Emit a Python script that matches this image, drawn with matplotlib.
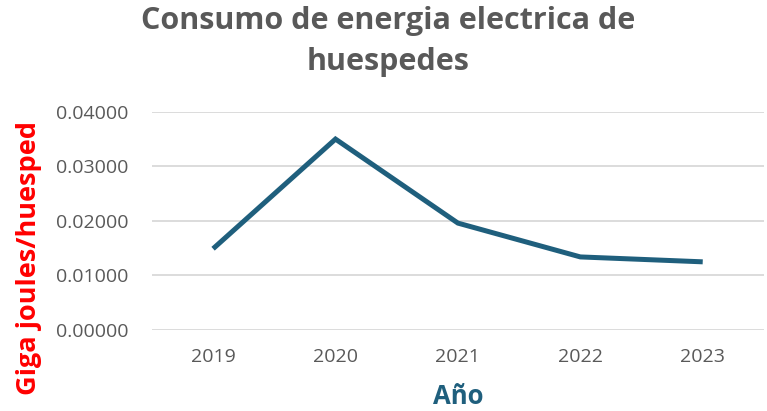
import matplotlib
matplotlib.use('Agg')
import matplotlib.pyplot as plt

YEARS = ['2019', '2020', '2021', '2022', '2023']
ENERGY = [0.0149, 0.0350, 0.0196, 0.0134, 0.0125]

TITLE = 'Consumo de energia electrica de\nhuespedes'
XLABEL = 'Año'
YLABEL = 'Giga joules/huesped'

GRAY = '#595959'
LINE_COLOR = '#1F5F7D'

plt.rcParams['font.family'] = ['Open Sans', 'DejaVu Sans']

fig = plt.figure(figsize=(7.67, 4.11), dpi=100)
axis = fig.add_axes([0.198, 0.197, 0.798, 0.531])

axis.plot(range(len(YEARS)), ENERGY, color=LINE_COLOR, linewidth=3.6,
          solid_capstyle='butt', solid_joinstyle='miter')

axis.set_xlim(-0.5, len(YEARS) - 0.5)
axis.set_ylim(0, 0.04)
axis.set_yticks([0, 0.01, 0.02, 0.03, 0.04])
axis.set_yticklabels(['%.5f' % v for v in axis.get_yticks()])
axis.set_xticks(range(len(YEARS)))
axis.set_xticklabels(YEARS)

# horizontal grid only, no frame
axis.yaxis.grid(True, color='#D9D9D9', linewidth=1.3)
axis.set_axisbelow(True)
for spine in axis.spines.values():
    spine.set_visible(False)
axis.tick_params(length=0, labelsize=14, labelcolor=GRAY)
axis.tick_params(axis='y', pad=17)
axis.tick_params(axis='x', pad=13)

axis.set_xlabel(XLABEL, fontsize=18.5, fontweight='bold', color=LINE_COLOR,
                labelpad=12)
axis.set_ylabel(YLABEL, fontsize=19.5, fontweight='bold', color='#FF0000')
axis.yaxis.set_label_coords(-0.18, 0.33)

fig.text(0.506, 0.985, TITLE, ha='center', va='top', fontsize=22,
         fontweight='bold', color=GRAY, linespacing=1.45)

plt.savefig('out.png', dpi=100)
plt.close()
